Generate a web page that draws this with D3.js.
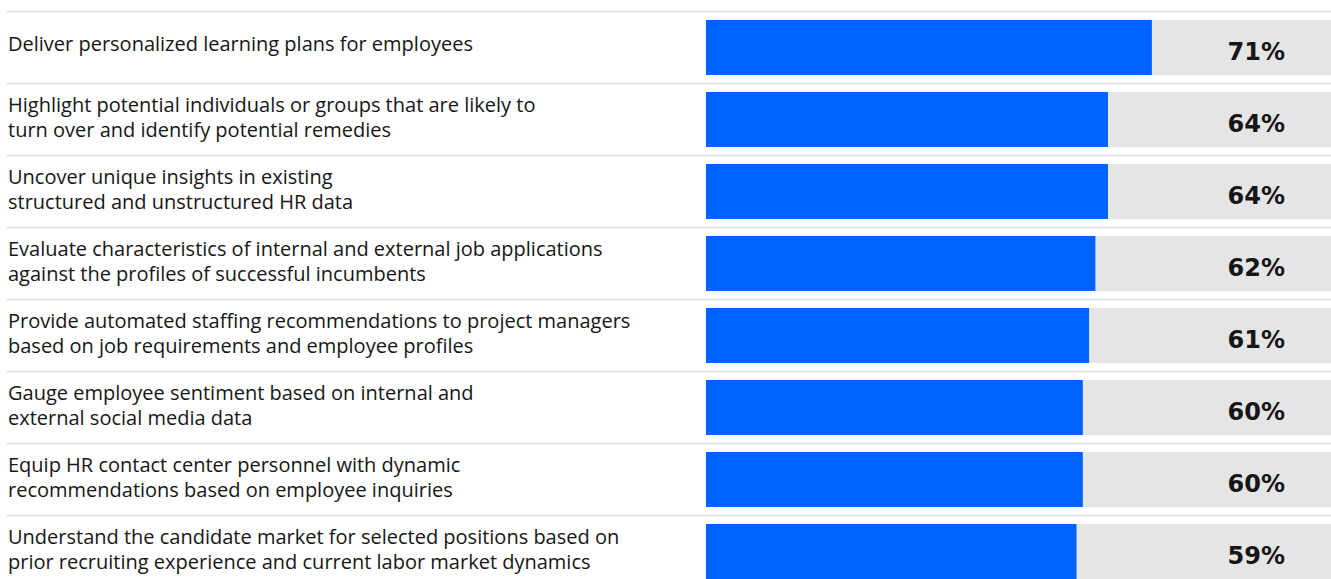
<!DOCTYPE html>
<meta charset="utf-8">
<style>
body { margin: 0; background: #fff; }
.sep { stroke: #dcdcdc; stroke-width: 1.5px; }
.track { fill: #e5e5e5; }
.bar { fill: #0062ff; }
.label { font-family: "Open Sans", "Noto Sans", sans-serif; font-size: 20px; fill: #161616; }
.value { font-family: "DejaVu Sans", sans-serif; font-size: 24px; font-weight: 700; fill: #161616; }
</style>
<body>
<script src="https://cdnjs.cloudflare.com/ajax/libs/d3/7.8.5/d3.min.js"></script>
<script>
var width = 1331,
    height = 579;

// chart data
var labels = [
  ["Deliver personalized learning plans for employees"],
  ["Highlight potential individuals or groups that are likely to", "turn over and identify potential remedies"],
  ["Uncover unique insights in existing", "structured and unstructured HR data"],
  ["Evaluate characteristics of internal and external job applications", "against the profiles of successful incumbents"],
  ["Provide automated staffing recommendations to project managers", "based on job requirements and employee profiles"],
  ["Gauge employee sentiment based on internal and", "external social media data"],
  ["Equip HR contact center personnel with dynamic", "recommendations based on employee inquiries"],
  ["Understand the candidate market for selected positions based on", "prior recruiting experience and current labor market dynamics"]
];
var values = [71, 64, 64, 62, 61, 60, 60, 59];

var svg = d3.select("body").append("svg")
    .attr("width", width)
    .attr("height", height);

var y = d3.scaleBand()
    .domain(d3.range(labels.length))
    .range([11.5, 11.5 + 72 * labels.length]);

var x = d3.scaleLinear()
    .domain([0, 100])
    .range([706, 1334]);

var row = svg.selectAll("g.row")
    .data(values)
    .enter().append("g")
    .attr("class", "row")
    .attr("transform", function(d, i) { return "translate(0," + y(i) + ")"; });

row.append("line")
    .attr("class", "sep")
    .attr("x1", 7)
    .attr("x2", width)
    .attr("y1", 0)
    .attr("y2", 0);

row.append("rect")
    .attr("class", "track")
    .attr("x", x(0))
    .attr("y", 8.5)
    .attr("width", width - x(0))
    .attr("height", 55);

row.append("rect")
    .attr("class", "bar")
    .attr("x", x(0))
    .attr("y", 8.5)
    .attr("width", function(d) { return x(d) - x(0); })
    .attr("height", 55);

row.append("text")
    .attr("class", "value")
    .attr("x", 1285)
    .attr("y", 48.5)
    .attr("text-anchor", "end")
    .text(function(d) { return d + "%"; });

row.append("text")
    .attr("class", "label")
    .each(function(d, i) {
        var lines = labels[i];
        var base = lines.length == 1 ? 39 : 28.5;
        d3.select(this).selectAll("tspan")
            .data(lines)
            .enter().append("tspan")
            .attr("x", 8)
            .attr("y", function(l, j) { return base + j * 25; })
            .text(function(l) { return l; });
    });
</script>
</body>
</html>
